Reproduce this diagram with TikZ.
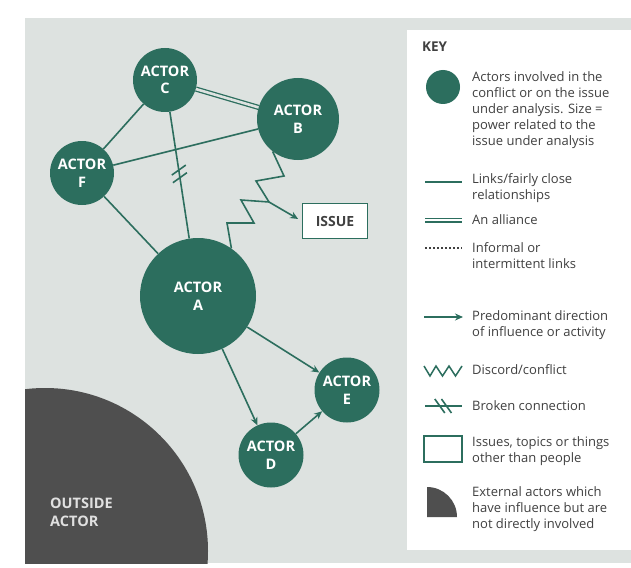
\documentclass[tikz,border=0pt]{standalone}
\usepackage{fontspec}
\setmainfont{Open Sans}
\usetikzlibrary{arrows.meta}
\definecolor{teal0}{HTML}{2C6E5E}
\definecolor{bgray}{HTML}{DDE2E0}
\definecolor{outgray}{HTML}{4F4F4F}
\definecolor{txt}{HTML}{404040}
\tikzset{
  actor/.style={circle, fill=teal0, text=white, align=center, inner sep=0pt,
    font=\fontsize{14.5}{17.5}\selectfont\bfseries},
  link/.style={draw=teal0, line width=1.6pt},
  alliance/.style={draw=teal0, line width=1.3pt, double=bgray, double distance=2.6pt},
  infl/.style={draw=teal0, line width=1.6pt, -{Stealth[length=8pt,width=7pt]}},
  keytext/.style={anchor=west, align=left, text=txt, inner sep=0pt,
    font=\fontsize{13}{16}\selectfont},
  issuebox/.style={draw=teal0, fill=white, line width=1.8pt, minimum width=65pt,
    minimum height=35pt, text=txt, font=\fontsize{14}{15}\selectfont\bfseries},
}
\begin{document}
\begin{tikzpicture}[x=1pt,y=-1pt]
\useasboundingbox (0,0) rectangle (631,567);
\fill[white] (0,0) rectangle (631,567);
% gray background
\fill[bgray] (25,18) rectangle (631,563);
% outside actor
\begin{scope}
  \clip (25,18) rectangle (406,563);
  \fill[outgray] (45,551) circle (163);
\end{scope}
\node[anchor=west, align=left, text=white!88!black, inner sep=0pt,
  font=\fontsize{14.5}{18}\selectfont\bfseries] (out) at (50,512) {OUTSIDE\\ACTOR};
% key panel
\fill[white] (407,30) rectangle (631,550);

% actors
\node[actor, minimum size=64pt] (C) at (165,80) {ACTOR\\C};
\node[actor, minimum size=82pt] (B) at (298,119) {ACTOR\\B};
\node[actor, minimum size=64pt] (F) at (82,173) {ACTOR\\F};
\node[actor, minimum size=116pt] (A) at (198,296) {ACTOR\\A};
\node[actor, minimum size=65pt] (E) at (347,390) {ACTOR\\E};
\node[actor, minimum size=65pt] (D) at (271,455) {ACTOR\\D};
\node[issuebox] (I) at (335,221) {ISSUE};

% links
\draw[link] (C) -- (F);
\draw[link] (F) -- (B);
\draw[link] (F) -- (A);
\draw[alliance] (C) -- (B);
\draw[link] (C) -- coordinate[pos=0.46] (m1) coordinate[pos=0.52] (m2) (A);
\draw[link] (m1) ++(-7,5) -- ++(14,-10);
\draw[link] (m2) ++(-7,5) -- ++(14,-10);
% discord zigzag
\coordinate (z1) at (284,176);
\coordinate (z2) at (256,181);
\coordinate (z3) at (269,202);
\coordinate (z4) at (241,200);
\coordinate (z5) at (254,223);
\coordinate (z6) at (227,223);
\draw[link, line join=miter] (B.232) -- (z1) -- (z2) -- (z3) -- (z4) -- (z5) -- (z6) -- (A.55);
\draw[infl, shorten >=4pt] (z3) -- (I.west);
% influence
\draw[infl] (A) -- (E);
\draw[infl] (A) -- (D);
\draw[infl] (D) -- (E);

% key
\node[anchor=west, text=txt, inner sep=0pt, font=\fontsize{13.5}{15}\selectfont\bfseries] (key) at (422,47) {KEY};
\node[circle, fill=teal0, minimum size=34pt, inner sep=0pt] (k1) at (443,87) {};
\node[keytext] (t1) at (472,110) {Actors involved in the\\conflict or on the issue\\under analysis. Size =\\power related to the\\issue under analysis};

\coordinate (l2a) at (425,182); \coordinate (l2b) at (462,182);
\draw[link] (l2a) -- (l2b);
\node[keytext] (t2) at (472,188) {Links/fairly close\\relationships};

\coordinate (l3a) at (425,220); \coordinate (l3b) at (462,220);
\draw[draw=teal0, line width=1.3pt, double=white, double distance=2.4pt] (l3a) -- (l3b);
\node[keytext] (t3) at (472,220) {An alliance};

\coordinate (l4a) at (425,248); \coordinate (l4b) at (462,248);
\draw[draw=txt, line width=1.1pt, dash pattern=on 2pt off 2pt] (l4a) -- (l4b);
\node[keytext] (t4) at (472,256) {Informal or\\intermittent links};

\coordinate (l5a) at (424,317); \coordinate (l5b) at (463,317);
\draw[infl] (l5a) -- (l5b);
\node[keytext] (t5) at (472,325) {Predominant direction\\of influence or activity};

\coordinate (l6a) at (424,366);
\draw[draw=teal0, line width=1.5pt, line join=miter] (l6a) -- ++(6,10) -- ++(6,-10) -- ++(6.5,10) -- ++(6.5,-10) -- ++(6.5,10) -- ++(6.5,-10);
\node[keytext] (t6) at (472,370) {Discord/conflict};

\coordinate (l7a) at (425,406); \coordinate (l7b) at (462,406);
\draw[link] (l7a) -- coordinate[pos=0.4] (k7a) coordinate[pos=0.58] (k7b) (l7b);
\draw[link] (k7a) ++(-5,-7) -- ++(10,14);
\draw[link] (k7b) ++(-5,-7) -- ++(10,14);
\node[keytext] (t7) at (472,406) {Broken connection};

\draw[draw=teal0, fill=white, line width=1.6pt] (424,436) rectangle (462,462);
\node[keytext] (t8) at (472,451) {Issues, topics or things\\other than people};

\fill[outgray] (427,517) -- (427,487) arc[start angle=-90, end angle=0, radius=30] -- cycle;
\node[keytext] (t9) at (472,509) {External actors which\\have influence but are\\not directly involved};
\end{tikzpicture}
\end{document}
